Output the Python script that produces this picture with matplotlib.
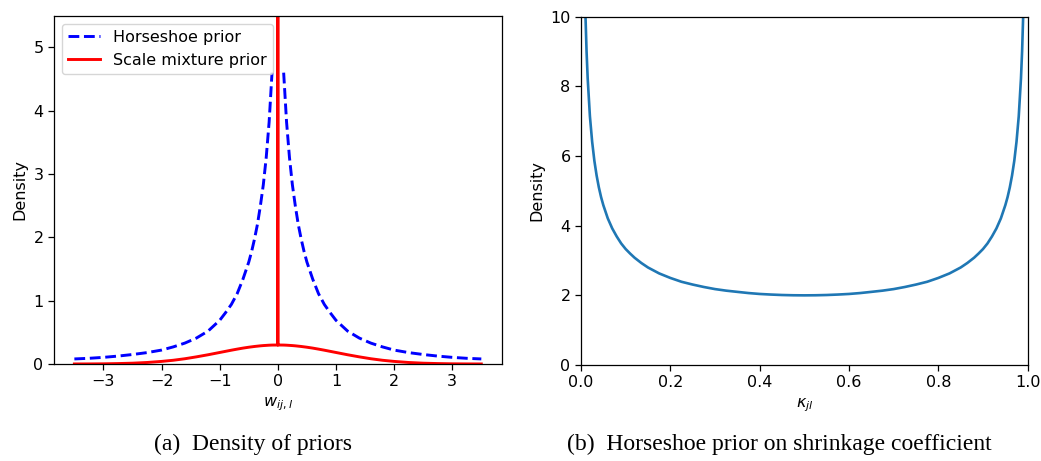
import numpy as np
import matplotlib
matplotlib.use('Agg')
import matplotlib.pyplot as plt

# Values (right half, the curves are symmetric about 0)
w_pos = [0.1, 0.15, 0.2, 0.25, 0.3, 0.35, 0.4, 0.45, 0.5, 0.6, 0.7, 0.8, 0.9,
         1.0, 1.2, 1.4, 1.6, 1.8, 2.0, 2.25, 2.5, 2.75, 3.0, 3.25, 3.5]
horseshoe_pos = [4.6, 3.82, 3.26, 2.83, 2.5, 2.21, 1.98, 1.78, 1.61, 1.34, 1.11,
                 0.94, 0.81, 0.69, 0.52, 0.41, 0.33, 0.27, 0.22, 0.18, 0.15,
                 0.125, 0.105, 0.09, 0.08]
mixture_pos = [0.299, 0.297, 0.294, 0.291, 0.287, 0.282, 0.277, 0.271, 0.265,
               0.251, 0.235, 0.218, 0.200, 0.182, 0.146, 0.113, 0.083, 0.059,
               0.041, 0.024, 0.013, 0.007, 0.003, 0.0015, 0.0007]
mixture_at_zero = 0.30
spike_height = 10.0   # point mass at zero, drawn past the top of the axes

# Shrinkage coefficient kappa (left half, symmetric about 0.5)
kappa_half = [0.01, 0.0125, 0.015, 0.02, 0.025, 0.03, 0.035, 0.04, 0.045, 0.05,
              0.06, 0.07, 0.08, 0.09, 0.1, 0.11, 0.12, 0.135, 0.15, 0.175, 0.2,
              0.225, 0.25, 0.275, 0.3, 0.325, 0.35, 0.375, 0.4, 0.425, 0.45, 0.475]
kappa_dens_half = [10.05, 9.0, 8.23, 7.14, 6.41, 5.86, 5.44, 5.10, 4.82, 4.59,
                   4.21, 3.92, 3.69, 3.49, 3.33, 3.20, 3.08, 2.93, 2.80, 2.63, 2.5,
                   2.39, 2.31, 2.24, 2.18, 2.135, 2.10, 2.066, 2.04, 2.023, 2.01, 2.0025]
kappa_mid = 0.5
kappa_dens_mid = 2.0

# assemble full series
w_neg = [-v for v in reversed(w_pos)]
hs_x = w_neg + [0.0] + w_pos
hs_y = list(reversed(horseshoe_pos)) + [np.nan] + horseshoe_pos
mix_x = w_neg + [0.0, 0.0, 0.0] + w_pos
mix_y = list(reversed(mixture_pos)) + [mixture_at_zero, spike_height, mixture_at_zero] + mixture_pos

k_x = kappa_half + [kappa_mid] + [1 - v for v in reversed(kappa_half)]
k_y = kappa_dens_half + [kappa_dens_mid] + list(reversed(kappa_dens_half))

plt.rcParams['font.size'] = 11.5
plt.rcParams['axes.linewidth'] = 0.9
plt.rcParams['xtick.major.size'] = 4
plt.rcParams['ytick.major.size'] = 4
plt.rcParams['xtick.major.width'] = 0.9
plt.rcParams['ytick.major.width'] = 0.9

fig = plt.figure(figsize=(10.41, 4.61), dpi=100)

# (a) density of priors
ax1 = fig.add_axes([0.0519, 0.2104, 0.4300, 0.7556])
ax1.plot(hs_x, hs_y, 'b--', lw=2.1, label='Horseshoe prior')
ax1.plot(mix_x, mix_y, 'r-', lw=2.1, label='Scale mixture prior')
ax1.set_xlim(-3.85, 3.85)
ax1.set_ylim(0, 5.5)
ax1.set_xticks([-3, -2, -1, 0, 1, 2, 3])
ax1.set_xlabel('$w_{ij,l}$')
ax1.set_ylabel('Density')
ax1.legend(loc='upper left')

# (b) horseshoe prior on shrinkage coefficient
ax2 = fig.add_axes([0.5581, 0.2082, 0.4291, 0.7556])
ax2.plot(k_x, k_y, color='#1f77b4', lw=1.9)
ax2.set_xlim(0, 1)
ax2.set_ylim(0, 10)
ax2.set_xlabel(r'$\kappa_{jl}$')
ax2.set_ylabel('Density')

# captions
fig.text(252.6 / 1041, 0.024, '(a)  Density of priors', family='Liberation Serif',
         fontsize=17, ha='center', va='baseline')
fig.text(779.5 / 1041, 0.024, '(b)  Horseshoe prior on shrinkage coefficient',
         family='Liberation Serif', fontsize=17, ha='center', va='baseline')

fig.savefig('out.png', dpi=100)
